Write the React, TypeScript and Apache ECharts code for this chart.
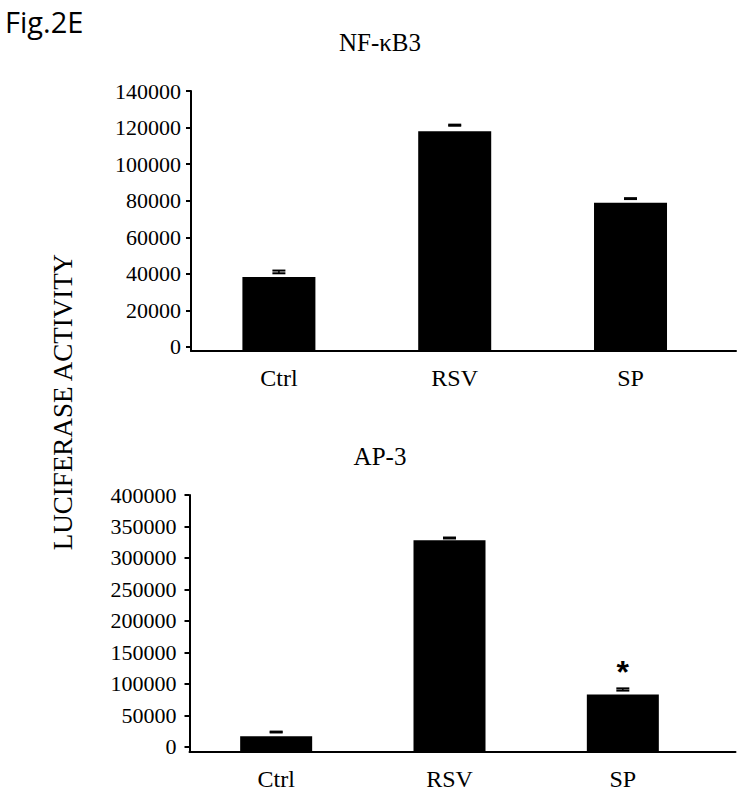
import React, { useEffect, useRef } from "react";
import * as echarts from "echarts";

// ---- data ----
const categories = ["Ctrl", "RSV", "SP"];
const panelTitles = ["NF-κB3", "AP-3"];
const yAxisTitle = "LUCIFERASE ACTIVITY";
const figureLabel = "Fig.2E";

const nfkbValues = [38300, 118000, 78900];
const nfkbErrLow = [40300, 121000, 80900];
const nfkbErrHigh = [41800, 121600, 81400];
const nfkbTicks = [0, 20000, 40000, 60000, 80000, 100000, 120000, 140000];
const nfkbSignificance = ["", "", ""];

const ap3Values = [17000, 328000, 83300];
const ap3ErrLow = [23000, 331000, 89500];
const ap3ErrHigh = [24400, 332500, 93000];
const ap3Ticks = [0, 50000, 100000, 150000, 200000, 250000, 300000, 350000, 400000];
const ap3Significance = ["", "", "*"];

const SERIF = '"Liberation Serif", "Times New Roman", serif';

function errorSeries(axisIndex: number, low: number[], high: number[], sig: string[]) {
  return {
    type: "custom",
    xAxisIndex: axisIndex,
    yAxisIndex: axisIndex,
    data: categories.map((_, i) => [i + 0.5, low[i], high[i]]),
    renderItem: (params: any, api: any) => {
      const x = api.value(0);
      const lo = api.coord([x, api.value(1)]);
      const hi = api.coord([x, api.value(2)]);
      const hw = 6.5;
      const children: any[] = [
        { type: "line", shape: { x1: lo[0], y1: lo[1], x2: hi[0], y2: hi[1] }, style: { stroke: "#000", lineWidth: 1.5 } },
        { type: "line", shape: { x1: lo[0] - hw, y1: lo[1], x2: lo[0] + hw, y2: lo[1] }, style: { stroke: "#000", lineWidth: 2 } },
        { type: "line", shape: { x1: hi[0] - hw, y1: hi[1], x2: hi[0] + hw, y2: hi[1] }, style: { stroke: "#000", lineWidth: 2 } },
      ];
      const s = sig[params.dataIndex];
      if (s) {
        children.push({
          type: "text",
          x: hi[0],
          y: hi[1] - 16,
          style: {
            text: s,
            font: 'bold 32px "Liberation Sans", Arial, sans-serif',
            fill: "#000",
            textAlign: "center",
            align: "center",
            textVerticalAlign: "middle",
            verticalAlign: "middle",
          },
        });
      }
      return { type: "group", children };
    },
  };
}

// bars drawn from the bottom of the plot (axis line) up to the value, through the axis scales
function barSeries(axisIndex: number, values: number[], width: number) {
  return {
    type: "custom",
    xAxisIndex: axisIndex,
    yAxisIndex: axisIndex,
    data: categories.map((_, i) => [i + 0.5, values[i]]),
    renderItem: (params: any, api: any) => {
      const top = api.coord([api.value(0), api.value(1)]);
      const baseY = params.coordSys.y + params.coordSys.height;
      return {
        type: "rect",
        shape: { x: top[0] - width / 2, y: top[1], width, height: baseY - top[1] },
        style: { fill: "#000" },
      };
    },
  };
}

function xAxis(gridIndex: number, max: number) {
  return {
    gridIndex,
    type: "value",
    min: 0,
    max,
    axisLine: { show: true, onZero: false, lineStyle: { color: "#000", width: 2 } },
    axisTick: { show: false },
    splitLine: { show: false },
    axisLabel: {
      customValues: categories.map((_, i) => i + 0.5),
      formatter: (v: number) => categories[Math.round(v - 0.5)] ?? "",
      fontFamily: SERIF,
      fontSize: 24,
      color: "#000",
      margin: 15,
    },
  };
}

function yAxis(gridIndex: number, min: number, max: number, ticks: number[], margin: number) {
  return {
    gridIndex,
    type: "value",
    min,
    max,
    axisLine: { show: true, onZero: false, lineStyle: { color: "#000", width: 2 } },
    axisTick: { show: true, length: 5, customValues: ticks, lineStyle: { color: "#000", width: 2 } },
    splitLine: { show: false },
    axisLabel: {
      customValues: ticks,
      formatter: (v: number) => String(v),
      fontFamily: SERIF,
      fontSize: 22,
      color: "#000",
      margin,
    },
  };
}

export default function App() {
  const ref = useRef<HTMLDivElement>(null);
  useEffect(() => {
    if (!ref.current) return;
    const chart = echarts.init(ref.current, undefined, { renderer: "svg" });
    const textStyle = (size: number, family = SERIF) => ({
      font: `${size}px ${family}`,
      fill: "#000",
      textAlign: "center",
      align: "center",
      textVerticalAlign: "middle",
      verticalAlign: "middle",
    });
    chart.setOption({
      animation: false,
      backgroundColor: "#fff",
      grid: [
        { left: 191, top: 91, width: 545, height: 260 },
        { left: 189.5, top: 495, width: 546, height: 257 },
      ],
      xAxis: [xAxis(0, 3.1), xAxis(1, 3.15)],
      yAxis: [
        yAxis(0, -2200, 140000, nfkbTicks, 10),
        yAxis(1, -8000, 400000, ap3Ticks, 13),
      ],
      series: [
        barSeries(0, nfkbValues, 73),
        errorSeries(0, nfkbErrLow, nfkbErrHigh, nfkbSignificance),
        barSeries(1, ap3Values, 72),
        errorSeries(1, ap3ErrLow, ap3ErrHigh, ap3Significance),
      ],
      graphic: [
        {
          type: "text",
          x: 5,
          y: 21,
          style: {
            ...textStyle(29, '"Open Sans", "Noto Sans", sans-serif'),
            text: figureLabel,
            textAlign: "left",
            align: "left",
          },
        },
        { type: "text", x: 380, y: 42, style: { ...textStyle(25), text: panelTitles[0] } },
        { type: "text", x: 380, y: 456, style: { ...textStyle(25), text: panelTitles[1] } },
        {
          type: "text",
          x: 62.5,
          y: 402,
          rotation: Math.PI / 2,
          style: { ...textStyle(27), text: yAxisTitle },
        },
      ],
    });
    return () => chart.dispose();
  }, []);
  return (
    <div
      ref={ref}
      style={{ position: "absolute", left: 0, top: 0, width: 745, height: 796, background: "#fff" }}
    />
  );
}
